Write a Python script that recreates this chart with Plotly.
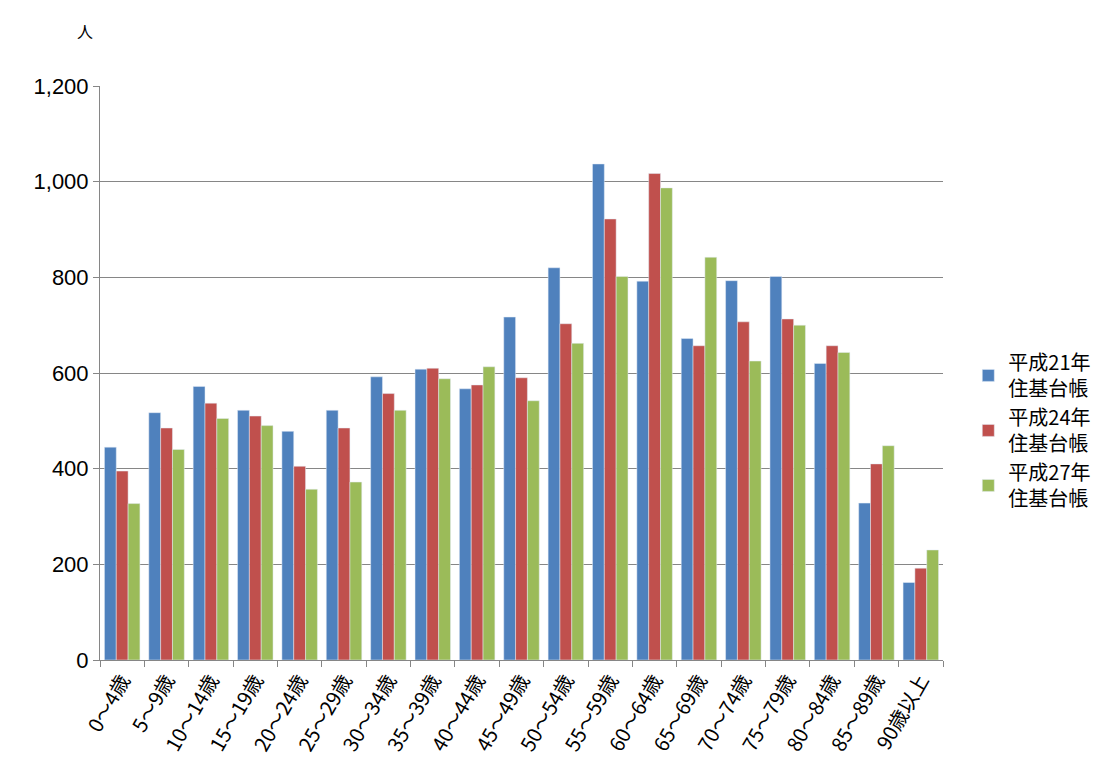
import plotly.graph_objects as go

# 年齢区分
categories = ["0～4歳", "5～9歳", "10～14歳", "15～19歳", "20～24歳", "25～29歳",
              "30～34歳", "35～39歳", "40～44歳", "45～49歳", "50～54歳", "55～59歳",
              "60～64歳", "65～69歳", "70～74歳", "75～79歳", "80～84歳", "85～89歳", "90歳以上"]

h21 = [445, 517, 572, 522, 478, 522, 592, 608, 567, 717, 820, 1037, 792, 672, 793, 802, 620, 328, 162]
h24 = [395, 485, 537, 510, 405, 485, 557, 610, 575, 590, 703, 922, 1017, 657, 707, 713, 657, 410, 192]
h27 = [327, 440, 505, 490, 357, 372, 522, 588, 613, 542, 662, 802, 987, 842, 625, 700, 643, 448, 230]

series = [
    ("平成21年<br>住基台帳", h21, "#4F81BD"),
    ("平成24年<br>住基台帳", h24, "#C0504D"),
    ("平成27年<br>住基台帳", h27, "#9BBB59"),
]

fig = go.Figure()
for nombre, valores, color in series:
    fig.add_trace(go.Bar(x=categories, y=valores, name=nombre, marker_color=color))

fig.update_layout(
    width=1114, height=778,
    plot_bgcolor="white", paper_bgcolor="white",
    font=dict(family="Noto Sans CJK JP", size=20, color="black"),
    margin=dict(l=92, r=179, t=78, b=126),
    bargap=0.2, bargroupgap=0.0,
    legend=dict(x=1.03, y=0.4, yanchor="middle", font=dict(size=20), tracegroupgap=26),
    annotations=[dict(text="人", xref="paper", yref="paper", x=-0.03, y=1.12,
                      showarrow=False, font=dict(size=16))],
)
fig.update_yaxes(range=[0, 1200], dtick=200, tickformat=",", gridcolor="#868686",
                 showline=True, linecolor="#868686", ticks="outside", ticklen=6,
                 tickcolor="#868686", tickfont=dict(family="Liberation Sans", size=22))
fig.update_xaxes(tickangle=-60, showline=True, linecolor="#868686", ticks="outside",
                 tickcolor="#868686", ticklen=6, tickson="boundaries",
                 tickfont=dict(size=20))

fig.write_html("out.html")
